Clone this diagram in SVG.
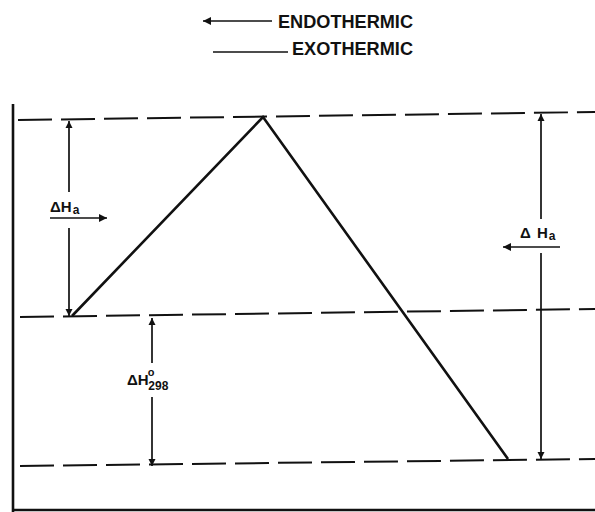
<svg xmlns="http://www.w3.org/2000/svg" width="595" height="512" viewBox="0 0 595 512">
<style>
.lvl{stroke:#111;stroke-width:2;stroke-dasharray:34 9;fill:none}
.path{stroke:#111;stroke-width:2.6;fill:none;stroke-linejoin:miter}
.dim{stroke:#111;stroke-width:1.7;fill:none}
.frame{stroke:#111;stroke-width:2.6;fill:none}
.lbl{font-family:"Liberation Sans",Arial,sans-serif;font-weight:bold;fill:#111}
</style>
<defs>
<marker id="ah" viewBox="0 0 10 10" refX="10" refY="5" markerUnits="userSpaceOnUse" markerWidth="7" markerHeight="10" orient="auto">
<path d="M0,0 L10,5 L0,10 Z" fill="#111"/>
</marker>
<marker id="ahL" viewBox="0 0 10 10" refX="10" refY="5" markerUnits="userSpaceOnUse" markerWidth="16" markerHeight="8" orient="auto">
<path d="M0,0 L10,5 L0,10 Z" fill="#111"/>
</marker>
<marker id="ahS" viewBox="0 0 10 10" refX="10" refY="5" markerUnits="userSpaceOnUse" markerWidth="14" markerHeight="8" orient="auto">
<path d="M0,0 L10,5 L0,10 Z" fill="#111"/>
</marker>
</defs>
<rect width="595" height="512" fill="#fff"/>
<g id="legend">
<line class="dim" x1="272" y1="21" x2="203" y2="21" stroke-width="2" marker-end="url(#ahL)"/>
<text class="lbl" x="278" y="28" font-size="18" textLength="135" lengthAdjust="spacingAndGlyphs">ENDOTHERMIC</text>
<line class="dim" x1="213" y1="52" x2="288" y2="52" stroke-width="1.8"/>
<text class="lbl" x="292" y="55" font-size="18" textLength="121" lengthAdjust="spacingAndGlyphs">EXOTHERMIC</text>
</g>
<g id="frame">
<line class="frame" x1="13" y1="104" x2="13" y2="512"/>
<line class="frame" x1="12" y1="510" x2="595" y2="510"/>
</g>
<g id="levels">
<line class="lvl" x1="18" y1="120" x2="595" y2="112"/>
<line class="lvl" x1="20" y1="317" x2="595" y2="309"/>
<line class="lvl" x1="20" y1="466" x2="595" y2="459"/>
</g>
<g id="reaction-path">
<path class="path" d="M72,316 L263,117 L508,459"/>
</g>
<g id="connectors">
<line class="dim" x1="69" y1="192" x2="69" y2="121" marker-end="url(#ah)"/>
<line class="dim" x1="69" y1="228" x2="69" y2="316" marker-end="url(#ah)"/>
<line class="dim" x1="50" y1="218" x2="107" y2="218" stroke-width="2.2" marker-end="url(#ahS)"/>
<line class="dim" x1="541" y1="219" x2="541" y2="114" marker-end="url(#ah)"/>
<line class="dim" x1="541" y1="253" x2="541" y2="459" marker-end="url(#ah)"/>
<line class="dim" x1="560" y1="247" x2="503" y2="247" stroke-width="2.2" marker-end="url(#ahS)"/>
<line class="dim" x1="152" y1="363" x2="152" y2="318" marker-end="url(#ah)"/>
<line class="dim" x1="152" y1="397" x2="152" y2="466" marker-end="url(#ah)"/>
</g>
<g id="label-dHa-left">
<text class="lbl" x="50" y="212" font-size="15">ΔH<tspan font-size="12" dy="2" dx="1">a</tspan></text>
</g>
<g id="label-dHa-right">
<text class="lbl" x="520" y="238" font-size="15" letter-spacing="1">Δ H<tspan font-size="12" dy="2">a</tspan></text>
</g>
<g id="label-dH298">
<text class="lbl" x="127" y="385" font-size="15">ΔH<tspan font-size="11" dy="-9" dx="-1">o</tspan><tspan font-size="12" dy="14" dx="-6">298</tspan></text>
</g>
</svg>
